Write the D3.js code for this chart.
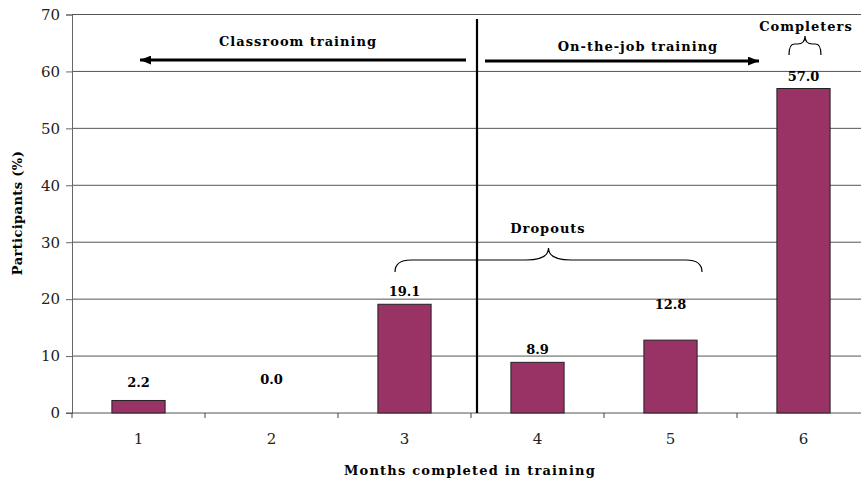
<!DOCTYPE html>
<html>
<head>
<meta charset="utf-8">
<script src="https://cdn.jsdelivr.net/npm/d3@7"></script>
<style>
  body { margin: 0; background: #fff; }
  svg { display: block; font-family: "DejaVu Serif", serif; }
  .tick text { font-family: "DejaVu Serif", serif; font-size: 15px; fill: #222; }
  .lbl { font-size: 13px; font-weight: bold; }
  .note { letter-spacing: 1px; }
</style>
</head>
<body>
<svg id="chart" width="861" height="487"></svg>
<script>
const months = ["1", "2", "3", "4", "5", "6"];
const participants = [2.2, 0.0, 19.1, 8.9, 12.8, 57.0];
const yTicks = [0, 10, 20, 30, 40, 50, 60, 70];

const svg = d3.select("#chart");

const x = d3.scaleBand()
  .domain(months)
  .range([72, 870])
  .paddingInner(0.6)
  .paddingOuter(0.3);

const y = d3.scaleLinear()
  .domain([0, 70])
  .range([413, 14.5]);

// horizontal gridlines
svg.append("g")
  .selectAll("line")
  .data(yTicks.filter(d => d > 0))
  .enter().append("line")
  .attr("x1", 72).attr("x2", 861)
  .attr("y1", d => y(d)).attr("y2", d => y(d))
  .attr("stroke", "#555").attr("stroke-width", 1);

// y axis
const yAxis = svg.append("g")
  .attr("transform", "translate(72,0)")
  .call(d3.axisLeft(y).tickValues(yTicks).tickSize(6).tickPadding(6));
yAxis.attr("font-family", null).attr("font-size", null);
yAxis.selectAll("path, line").attr("stroke", "#666");

// x axis, ticks between categories
const step = x.step();
const xAxis = svg.append("g")
  .attr("transform", `translate(0,${y(0)})`)
  .call(d3.axisBottom(x).tickSize(0).tickPadding(20));
xAxis.attr("font-family", null).attr("font-size", null);
xAxis.select("path").remove();
svg.append("line")
  .attr("x1", 66).attr("x2", 861)
  .attr("y1", y(0)).attr("y2", y(0))
  .attr("stroke", "#555");
svg.append("g")
  .selectAll("line")
  .data(months)
  .enter().append("line")
  .attr("x1", d => x(d) - (step - x.bandwidth()) / 2)
  .attr("x2", d => x(d) - (step - x.bandwidth()) / 2)
  .attr("y1", y(0)).attr("y2", y(0) + 5)
  .attr("stroke", "#444");

// bars
svg.append("g")
  .selectAll("rect")
  .data(participants)
  .enter().append("rect")
  .attr("x", (d, i) => x(months[i]))
  .attr("y", d => y(d))
  .attr("width", x.bandwidth())
  .attr("height", d => y(0) - y(d))
  .attr("fill", "#993366")
  .attr("stroke", "#222")
  .attr("stroke-width", 1);

// value labels (some were nudged by hand in the original)
const nudge = { "1": 5, "2": 21, "5": 23 };
svg.append("g")
  .selectAll("text")
  .data(participants)
  .enter().append("text")
  .attr("class", "lbl")
  .attr("text-anchor", "middle")
  .attr("x", (d, i) => x(months[i]) + x.bandwidth() / 2)
  .attr("y", (d, i) => y(d) - 8 - (nudge[months[i]] || 0))
  .text(d => d.toFixed(1));

// divider between classroom and on-the-job
const divX = x("4") - (step - x.bandwidth()) / 2 + 6;
svg.append("line")
  .attr("x1", divX).attr("x2", divX)
  .attr("y1", 19).attr("y2", y(0))
  .attr("stroke", "#000").attr("stroke-width", 2.2);

// arrows
const defs = svg.append("defs");
defs.append("marker")
  .attr("id", "arr")
  .attr("viewBox", "0 0 10 8")
  .attr("refX", 10).attr("refY", 4)
  .attr("markerWidth", 11).attr("markerHeight", 9)
  .attr("markerUnits", "userSpaceOnUse")
  .attr("orient", "auto")
  .append("path").attr("d", "M0,0L10,4L0,8Z").attr("fill", "#000");

svg.append("line")
  .attr("x1", 466).attr("x2", 140).attr("y1", 60).attr("y2", 60)
  .attr("stroke", "#000").attr("stroke-width", 3).attr("marker-end", "url(#arr)");
svg.append("line")
  .attr("x1", 485).attr("x2", 759).attr("y1", 61).attr("y2", 61)
  .attr("stroke", "#000").attr("stroke-width", 3).attr("marker-end", "url(#arr)");

svg.append("text").attr("class", "lbl note").attr("text-anchor", "middle")
  .attr("x", 298).attr("y", 46).text("Classroom training");
svg.append("text").attr("class", "lbl note").attr("text-anchor", "middle")
  .attr("x", 638).attr("y", 51).text("On-the-job training");

// braces
function brace(x0, x1, yTop, yTip, yEnd) {
  const m = (x0 + x1) / 2;
  const r = Math.min(16, (x1 - x0) / 6);
  return `M${x0},${yEnd} Q${x0},${yTop} ${x0 + r},${yTop} L${m - r * 1.4},${yTop} Q${m},${yTop} ${m},${yTip}`
    + ` Q${m},${yTop} ${m + r * 1.4},${yTop} L${x1 - r},${yTop} Q${x1},${yTop} ${x1},${yEnd}`;
}
svg.append("path")
  .attr("d", brace(395, 702, 260, 248, 272))
  .attr("fill", "none").attr("stroke", "#000").attr("stroke-width", 1.2);
svg.append("path")
  .attr("d", brace(789, 821, 44, 36, 55))
  .attr("fill", "none").attr("stroke", "#000").attr("stroke-width", 1.2);

svg.append("text").attr("class", "lbl note").attr("text-anchor", "middle")
  .attr("x", 548).attr("y", 233).text("Dropouts");
svg.append("text").attr("class", "lbl note").attr("text-anchor", "middle")
  .attr("x", 806).attr("y", 31).text("Completers");

// axis titles
svg.append("text").attr("class", "lbl").attr("text-anchor", "middle")
  .attr("transform", "translate(22,213) rotate(-90)")
  .style("letter-spacing", "0.4px")
  .text("Participants (%)");
svg.append("text").attr("class", "lbl").attr("text-anchor", "middle")
  .attr("x", 470).attr("y", 475)
  .style("letter-spacing", "1.2px")
  .text("Months completed in training");
</script>
</body>
</html>
